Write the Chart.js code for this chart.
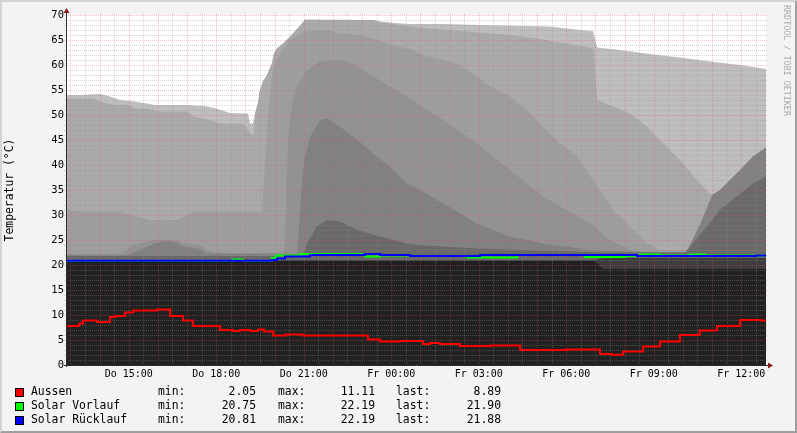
<!DOCTYPE html>
<html>
<head>
<meta charset="utf-8">
<script src="https://cdn.jsdelivr.net/npm/chart.js@4.4.1/dist/chart.umd.min.js"></script>
<style>
  html, body { margin: 0; padding: 0; background: #f3f3f3; }
  #wrap { position: relative; width: 797px; height: 433px; background: #f3f3f3; overflow: hidden;
          font-family: 'DejaVu Sans Mono', monospace; }
  #frame { position: absolute; left: 0; top: 0; width: 797px; height: 433px; box-sizing: border-box;
           border-top: 2px solid #d4d4d4; border-left: 2px solid #d4d4d4;
           border-right: 2px solid #9e9e9e; border-bottom: 2px solid #9e9e9e; pointer-events: none; }
  canvas { position: absolute; left: 0; top: 0; }
  .lg { position: absolute; font-size: 11.4px; line-height: 14px; color: #000; white-space: pre; }
  .num { text-align: right; }
  .box { position: absolute; width: 7px; height: 7px; border: 1px solid #000; }
  #wm { position: absolute; left: 792px; top: 5px; transform-origin: 0 0; transform: rotate(90deg);
        font-size: 8.4px; line-height: 10px; color: #aaaaaa; white-space: pre; }
</style>
</head>
<body>
<div id="wrap">
  <canvas id="chart" width="797" height="433"></canvas>
  <div id="legend"></div>
  <div id="wm">RRDTOOL / TOBI OETIKER</div>
  <div id="frame"></div>
</div>
<script>
// time axis in hours (Do 13:00 = 13, Fr 00:00 = 24)
const xTickHours = [15, 18, 21, 24, 27, 30, 33, 36]
const xTickLabels = ['Do 15:00', 'Do 18:00', 'Do 21:00', 'Fr 00:00', 'Fr 03:00', 'Fr 06:00', 'Fr 09:00', 'Fr 12:00']
const yTicks = [0, 5, 10, 15, 20, 25, 30, 35, 40, 45, 50, 55, 60, 65, 70]

// gray background layers (speicher sensors), lightest first, [hour, °C]
const layer1 = [[12.85,54],[13.33,54],[14.02,54.2],[14.36,53.7],[14.70,53],[15.22,52.7],[15.90,52],[16.93,52],
  [17.62,51.8],[18.06,51.2],[18.47,50.4],[19.09,50.3],[19.16,48.3],[19.26,48.3],[19.33,50.3],[19.43,52.3],[19.50,55],
  [19.60,56.7],[19.74,58],[19.91,60.3],[19.98,62.3],[20.08,63.3],[20.29,64.3],[20.53,65.7],[20.63,66.3],[20.94,68.3],
  [21.04,69.1],[23.38,69],[23.62,68.7],[24.54,68.2],[25.78,68.2],[27.04,68],[29.44,67.7],[30.03,67.3],[30.47,67],
  [30.92,66.8],[31.06,63.5],[31.84,63],[32.87,62.2],[33.90,61.5],[34.93,60.7],[35.96,60],[36.85,59.2]]
const layer2 = [[12.85,53.3],[13.78,53.3],[14.12,52.5],[14.53,52],[14.94,52],[15.22,51.3],[15.63,51.3],[16.07,50.7],
  [17.00,50.7],[17.27,49.6],[17.79,49],[18.13,48.3],[18.92,48.3],[19.09,47],[19.23,46],[19.29,46.5],[19.33,50.3],
  [19.43,52.3],[19.50,55],[19.60,56.7],[19.74,58],[19.91,60.3],[19.98,62.3],[20.08,63.3],[20.29,64.3],[20.53,65.7],
  [20.63,66.3],[20.94,68.3],[21.04,69],[23.38,69],[23.62,68.6],[24.30,68],[24.99,67.5],[26.36,66.8],[27.73,66.2],
  [28.76,65.5],[29.79,64.5],[30.82,63.5],[30.95,63.2],[31.06,53],[31.60,51.7],[32.19,50.3],[32.77,47.7],[33.32,44.3],
  [33.90,41],[34.48,37],[34.93,34.3],[35.27,33],[36.85,31]]
const layer3 = [[12.85,31],[13.33,30.7],[14.70,30.7],[15.05,30],[15.73,29],[16.66,29],[16.93,29.7],[17.20,30.7],
  [19.09,30.7],[19.57,30.5],[19.67,40],[19.78,50],[19.88,56],[19.95,59.3],[20.19,62.3],[20.53,65],[20.94,66.3],
  [21.32,67],[21.80,67],[22.24,66.3],[22.93,66],[23.38,65.3],[23.86,64.3],[24.75,63],[25.09,62],[25.78,61],[26.36,60],
  [26.94,57.7],[27.39,55.7],[28.07,53.7],[28.66,51],[29.20,47.7],[29.79,44.3],[30.37,41.7],[31.06,35.7],[31.60,31],
  [32.19,27.7],[32.77,24.3],[33.22,23],[34.14,23],[36.85,24]]
const layer4 = [[12.85,22.2],[14.70,22.3],[14.94,23],[15.15,24],[15.39,24.4],[15.97,25.1],[16.66,25],[16.83,24.4],
  [17.44,24],[17.68,23],[17.96,22.6],[18.64,22.3],[20.32,22.5],[20.39,30],[20.46,45],[20.53,49],[20.63,53],
  [20.77,55.7],[21.11,59],[21.56,60.7],[22.24,61],[22.69,60.3],[23.38,57.7],[23.96,55.7],[24.54,53.7],[24.99,52],
  [25.78,49],[26.94,44.3],[28.07,39],[29.20,33.7],[30.82,28.3],[31.50,25],[32.19,23],[32.87,22.5],[36.85,22.3]]
const layer5 = [[12.85,22],[14.94,22],[15.22,22.6],[15.56,23.5],[15.90,24.3],[16.24,24.8],[16.59,24.5],[16.93,23.6],
  [17.44,23.2],[17.68,22.3],[20.77,22.2],[20.87,30],[20.94,36.3],[21.04,41.7],[21.22,45.7],[21.56,49],[21.80,49.3],
  [22.24,47.7],[22.83,45],[23.38,42.3],[23.96,39.7],[24.54,36.3],[24.99,35],[25.78,32.3],[26.94,28.3],[28.07,25.7],
  [29.20,24.3],[30.82,23],[32.53,22.6],[34.11,22.5],[34.24,24],[34.58,28],[34.83,31.5],[35.00,34],[35.27,35],
  [35.61,37],[35.96,39],[36.40,41.7],[36.85,43.5]]
const layer6 = [[12.85,21.8],[20.97,21.8],[21.04,23],[21.11,24.3],[21.45,27.7],[21.80,29],[22.24,28.7],[22.83,27],
  [23.62,25.7],[24.54,24.3],[24.99,24],[25.78,23.7],[26.94,23.3],[28.42,23],[29.79,22.8],[31.16,22.5],[34.07,22.5],
  [34.24,23.5],[34.58,26],[34.83,27.7],[35.27,31],[35.85,33.7],[36.40,36.3],[36.85,37.7]]
const layer7 = [[12.85,21],[30.95,21],[31.26,21.4],[36.85,21.4]]
const layer8 = [[12.85,20.8],[30.99,20.8],[31.26,19.2],[36.85,19.2]]

// measured lines, each value holds from its hour on
const aussen = [[12.85,7.8],[13.30,8.3],[13.43,8.9],[13.91,8.6],[14.36,9.6],[14.53,9.8],[14.87,10.5],[15.15,10.9],
  [15.97,11.11],[16.42,9.8],[16.86,8.9],[17.20,7.8],[18.13,7.0],[18.58,6.8],[18.82,7.0],[19.16,6.8],[19.43,7.1],
  [19.64,6.7],[19.95,5.9],[20.39,6.1],[20.97,5.9],[23.20,5.1],[23.62,4.7],[24.30,4.8],[25.09,4.2],[25.33,4.4],
  [25.67,4.2],[26.36,3.8],[27.39,3.9],[28.42,3.0],[30.03,3.1],[31.16,2.2],[31.57,2.05],[31.95,2.7],[32.63,3.7],
  [33.22,4.7],[33.90,6.0],[34.58,6.9],[35.17,7.8],[35.96,9.0],[36.64,8.89],[36.85,8.89]]
const solarVorlauf = [[12.85,20.8],[18.58,21.1],[18.92,20.8],[19.91,21.4],[20.05,21.9],[20.87,22.19],[23.0,22.0],
  [23.10,21.7],[23.62,21.9],[24.64,21.8],[26.60,21.5],[28.31,22.0],[30.64,21.6],[32.02,21.8],[32.53,22.1],[33.22,21.9],
  [34.24,22.1],[34.76,21.9],[36.85,21.9]]
const solarRuecklauf = [[12.85,20.85],[19.91,21.0],[20.08,21.3],[20.36,21.7],[21.22,22.0],[23.10,22.19],[23.62,22.0],
  [24.64,21.8],[27.04,22.0],[32.43,21.8],[36.5,21.88],[36.85,21.88]]

const legendRows = [
  ['Aussen', '2.05', '11.11', '8.89'],
  ['Solar Vorlauf', '20.75', '22.19', '21.90'],
  ['Solar Rücklauf', '20.81', '22.19', '21.88']
]

const layerColors = ['#bebebe', '#aaaaaa', '#9e9e9e', '#929292', '#818181', '#696969', '#3d3d3d', '#212121']
const lineColors = ['#ff0000', '#00ff00', '#0000ff']
const monoFont = "'DejaVu Sans Mono', monospace"

// legend below the plot
const legendEl = document.getElementById('legend')
legendRows.forEach((row, i) => {
  const top = 384 + i * 14
  const add = (cls, text, left, width) => {
    const d = document.createElement('div')
    d.className = cls
    d.textContent = text
    d.style.left = left + 'px'
    d.style.top = top + 'px'
    if (width) d.style.width = width + 'px'
    legendEl.appendChild(d)
  }
  const box = document.createElement('div')
  box.className = 'box'
  box.style.left = '15px'
  box.style.top = (top + 4) + 'px'
  box.style.background = lineColors[i]
  legendEl.appendChild(box)
  add('lg', row[0], 31)
  add('lg', 'min:', 158)
  add('lg num', row[1], 196, 60)
  add('lg', 'max:', 278)
  add('lg num', row[2], 315, 60)
  add('lg', 'last:', 396)
  add('lg num', row[3], 441, 60)
})

const toPoints = arr => arr.map(p => ({ x: p[0], y: p[1] }))

const layers = [layer1, layer2, layer3, layer4, layer5, layer6, layer7, layer8]
// chart.js draws the last dataset first, so the lines go first and the lightest layer last
const datasets = [
  { data: toPoints(solarRuecklauf), borderColor: lineColors[2] },
  { data: toPoints(solarVorlauf), borderColor: lineColors[1] },
  { data: toPoints(aussen), borderColor: lineColors[0] }
].map(d => Object.assign(d, { stepped: true, borderWidth: 2, pointRadius: 0, fill: false }))

const gridAfterIndex = datasets.length
layers.slice().reverse().forEach((l, i) => {
  datasets.push({
    data: toPoints(l),
    backgroundColor: layerColors[layers.length - 1 - i],
    borderWidth: 0,
    pointRadius: 0,
    fill: 'origin'
  })
})

const xMin = 12.85, xMax = 36.85
const xGrid = []
for (let h = 13; h < xMax; h += 0.5) xGrid.push(h)
const yGrid = []
for (let v = 0; v <= 70; v++) yGrid.push(v)

const rrdLook = {
  id: 'rrdLook',
  beforeDatasetsDraw(chart) {
    const { ctx, chartArea: a } = chart
    ctx.save()
    ctx.fillStyle = '#ffffff'
    ctx.fillRect(a.left, a.top, a.right - a.left, a.bottom - a.top)
    ctx.restore()
  },
  afterDatasetDraw(chart, args) {
    if (args.index !== gridAfterIndex) return
    const { ctx, chartArea: a, scales: { x, y } } = chart
    const line = (x1, y1, x2, y2, c) => {
      ctx.strokeStyle = c
      ctx.beginPath()
      ctx.moveTo(x1, y1)
      ctx.lineTo(x2, y2)
      ctx.stroke()
    }
    const minor = 'rgba(143,143,143,0.36)'
    const major = 'rgba(222,81,81,0.34)'
    ctx.save()
    ctx.lineWidth = 1
    ctx.setLineDash([1, 1])
    xGrid.filter(h => h % 1 !== 0).forEach(h => {
      const px = Math.round(x.getPixelForValue(h)) + 0.5
      line(px, a.top - 2, px, a.bottom + 2, minor)
    })
    yGrid.filter(v => v % 5 !== 0).forEach(v => {
      const py = Math.round(y.getPixelForValue(v)) + 0.5
      line(a.left - 2, py, a.right + 2, py, minor)
    })
    xGrid.filter(h => h % 1 === 0).forEach(h => {
      const px = Math.round(x.getPixelForValue(h)) + 0.5
      line(px, a.top - 2, px, a.bottom + 2, major)
    })
    yGrid.filter(v => v % 5 === 0).forEach(v => {
      const py = Math.round(y.getPixelForValue(v)) + 0.5
      line(a.left - 2, py, a.right + 2, py, major)
    })
    ctx.restore()
  },
  afterDraw(chart) {
    const { ctx, chartArea: a } = chart
    const xl = Math.round(a.left) + 0.5
    const yb = Math.round(a.bottom) + 0.5
    ctx.save()
    ctx.lineWidth = 1
    ctx.strokeStyle = '#2c2c2c'
    ctx.beginPath()
    ctx.moveTo(a.left - 2, yb)
    ctx.lineTo(a.right + 3, yb)
    ctx.moveTo(xl, a.bottom + 2)
    ctx.lineTo(xl, a.top - 3)
    ctx.stroke()
    ctx.fillStyle = '#8b1a1a'
    ctx.beginPath()
    ctx.moveTo(a.right + 7, yb)
    ctx.lineTo(a.right + 2, yb - 3)
    ctx.lineTo(a.right + 2, yb + 3)
    ctx.closePath()
    ctx.fill()
    ctx.beginPath()
    ctx.moveTo(xl, a.top - 7)
    ctx.lineTo(xl - 3, a.top - 2)
    ctx.lineTo(xl + 3, a.top - 2)
    ctx.closePath()
    ctx.fill()
    ctx.restore()
  }
}

new Chart(document.getElementById('chart').getContext('2d'), {
  type: 'line',
  data: { datasets: datasets },
  options: {
    responsive: false,
    animation: false,
    devicePixelRatio: 1,
    layout: { padding: { left: 0, top: 15, right: 31, bottom: 0 } },
    plugins: { legend: { display: false }, tooltip: { enabled: false } },
    elements: { line: { tension: 0 } },
    scales: {
      x: {
        type: 'linear',
        min: xMin,
        max: xMax,
        afterBuildTicks: s => { s.ticks = xTickHours.map(v => ({ value: v })) },
        afterFit: s => { s.height = 68 },
        grid: { display: false, drawTicks: false },
        border: { display: false },
        ticks: {
          autoSkip: false,
          maxRotation: 0,
          padding: 3,
          color: '#000',
          font: { family: monoFont, size: 10 },
          callback: v => xTickLabels[xTickHours.indexOf(v)]
        }
      },
      y: {
        min: 0,
        max: 70,
        afterBuildTicks: s => { s.ticks = yTicks.map(v => ({ value: v })) },
        afterFit: s => { s.width = 66 },
        grid: { display: false, drawTicks: false },
        border: { display: false },
        ticks: { padding: 2, color: '#000', font: { family: monoFont, size: 10.5 } },
        title: {
          display: true,
          text: 'Temperatur (°C)',
          color: '#000',
          font: { family: monoFont, size: 11.4 },
          padding: { top: 3, bottom: 0 }
        }
      }
    }
  },
  plugins: [rrdLook]
})
</script>
</body>
</html>
